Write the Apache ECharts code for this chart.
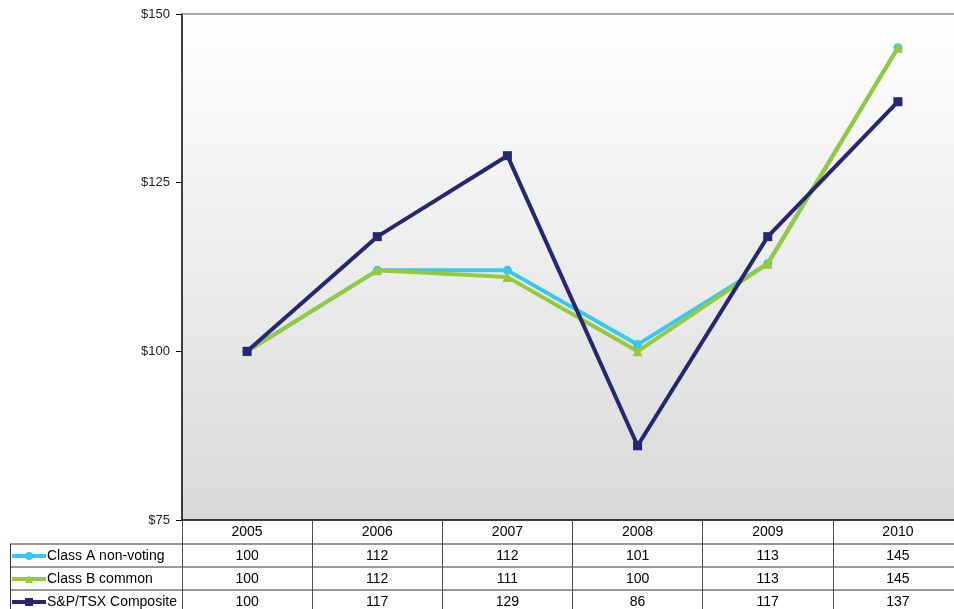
<!DOCTYPE html>
<html>
<head>
<meta charset="utf-8">
<script src="https://cdn.jsdelivr.net/npm/echarts@6/dist/echarts.min.js"></script>
<style>
  html, body { margin: 0; padding: 0; background: #ffffff; overflow: hidden; }
  #chart { width: 964px; height: 609px; }
</style>
</head>
<body>
<div id="chart"></div>
<script>
// Five-year cumulative return, indexed to $100 in 2005
const years = ['2005', '2006', '2007', '2008', '2009', '2010'];
const classA = [100, 112, 112, 101, 113, 145];
const classB = [100, 112, 111, 100, 113, 145];
const spTsx = [100, 117, 129, 86, 117, 137];
const yTicks = [75, 100, 125, 150];

const seriesNames = ['Class A non-voting', 'Class B common', 'S&P/TSX Composite'];
const seriesData = [classA, classB, spTsx];
const colors = ['#38c8ef', '#97c93d', '#26276f'];
const symbols = ['circle', 'triangle', 'rect'];
const symbolSizes = [9, 10, 9];

const FONT = '"Liberation Sans", Arial, sans-serif';
const TABLE_FONT_SIZE = 14;
const GRID_TOP = 14, GRID_BOTTOM = 89, GRID_LEFT = 182;
const ROW_OFFSETS = [24, 47, 70];

const chart = echarts.init(document.getElementById('chart'), null, { renderer: 'canvas' });

// Data-table rows: one extra category axis per series, its labels are the values
const rowAxes = seriesData.map((vals, i) => ({
  type: 'category',
  gridIndex: 0,
  position: 'bottom',
  offset: ROW_OFFSETS[i],
  data: years,
  boundaryGap: true,
  axisLine: { show: false },
  axisTick: { show: false },
  axisLabel: {
    margin: 5,
    fontFamily: FONT,
    fontSize: TABLE_FONT_SIZE,
    color: '#000',
    formatter: (v, idx) => String(vals[idx])
  },
  splitLine: { show: false }
}));

const option = {
  animation: false,
  color: colors,
  grid: {
    left: GRID_LEFT,
    right: 1,
    top: GRID_TOP,
    bottom: GRID_BOTTOM,
    show: true,
    borderWidth: 0,
    backgroundColor: {
      type: 'linear', x: 0, y: 0, x2: 0, y2: 1,
      colorStops: [
        { offset: 0, color: '#ffffff' },
        { offset: 1, color: '#d9d9d9' }
      ]
    }
  },
  legend: {
    orient: 'vertical',
    left: 10,
    top: 549,
    height: 80,
    padding: 0,
    itemGap: 9,
    itemWidth: 34,
    itemHeight: 10,
    data: seriesNames,
    lineStyle: { width: 4 },
    textStyle: { fontFamily: FONT, fontSize: TABLE_FONT_SIZE, color: '#000', lineHeight: 14, padding: [0, 0, 0, -4] }
  },
  xAxis: [
    {
      type: 'category',
      gridIndex: 0,
      position: 'bottom',
      data: years,
      boundaryGap: true,
      axisLine: { show: true, lineStyle: { color: '#000', width: 1.5 } },
      axisTick: { show: true, length: 95, lineStyle: { color: '#4d4d4d', width: 1 } },
      axisLabel: { margin: 5, fontFamily: FONT, fontSize: TABLE_FONT_SIZE, color: '#000' },
      splitLine: { show: false }
    },
    ...rowAxes,
    {
      // top border of the plot area
      type: 'category',
      gridIndex: 0,
      position: 'top',
      data: years,
      axisLine: { show: true, lineStyle: { color: '#8c8c8c', width: 1.5 } },
      axisTick: { show: false },
      axisLabel: { show: false },
      splitLine: { show: false }
    }
  ],
  yAxis: {
    type: 'value',
    min: yTicks[0],
    max: yTicks[yTicks.length - 1],
    interval: 25,
    axisLine: { show: true, lineStyle: { color: '#000', width: 1.5 } },
    axisTick: { show: true, length: 6, lineStyle: { color: '#000' } },
    axisLabel: { margin: 12, fontFamily: FONT, fontSize: 13, color: '#222', formatter: v => '$' + v },
    splitLine: { show: false }
  },
  graphic: [
    { type: 'line', shape: { x1: 10, y1: 544, x2: 964, y2: 544 }, style: { stroke: '#333', lineWidth: 1 }, silent: true },
    { type: 'line', shape: { x1: 10, y1: 567, x2: 964, y2: 567 }, style: { stroke: '#333', lineWidth: 1 }, silent: true },
    { type: 'line', shape: { x1: 10, y1: 590, x2: 964, y2: 590 }, style: { stroke: '#333', lineWidth: 1 }, silent: true },
    { type: 'line', shape: { x1: 10.5, y1: 544, x2: 10.5, y2: 609 }, style: { stroke: '#333', lineWidth: 1 }, silent: true }
  ],
  series: seriesData.map((vals, i) => ({
    name: seriesNames[i],
    type: 'line',
    xAxisIndex: 0,
    yAxisIndex: 0,
    data: vals,
    symbol: symbols[i],
    symbolSize: symbolSizes[i],
    showAllSymbol: true,
    lineStyle: { width: 4, color: colors[i] },
    itemStyle: { color: colors[i] },
    z: 2 + i
  }))
};

chart.setOption(option);
</script>
</body>
</html>
